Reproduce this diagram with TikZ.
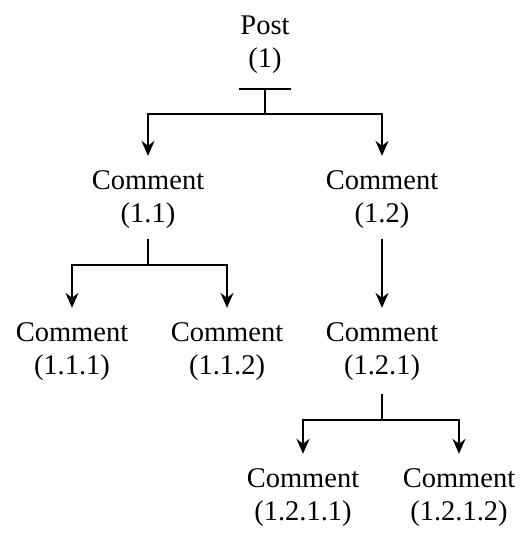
\documentclass[tikz,border=0pt]{standalone}
\usepackage{fontspec}
\setmainfont{Liberation Serif}
\usetikzlibrary{arrows.meta,calc}
\begin{document}
\begin{tikzpicture}[x=1pt,y=-1pt,
  lbl/.style={inner sep=0pt,align=center,font=\fontsize{28.5}{33}\selectfont},
  conn/.style={line width=2pt,draw=black},
  arr/.style={conn,-{Stealth[length=15pt,width=13pt,inset=5pt]},shorten >=15pt}]
\useasboundingbox (0,0) rectangle (521,536);
\node[lbl] (post) at (265,45) {Post\\(1)};
\node[lbl] (c11) at (148,200) {Comment\\(1.1)};
\node[lbl] (c12) at (382,200) {Comment\\(1.2)};
\node[lbl] (c111) at (72,352) {Comment\\(1.1.1)};
\node[lbl] (c112) at (227,352) {Comment\\(1.1.2)};
\node[lbl] (c121) at (382,352) {Comment\\(1.2.1)};
\node[lbl] (c1211) at (303,498) {Comment\\(1.2.1.1)};
\node[lbl] (c1212) at (459,498) {Comment\\(1.2.1.2)};
% Post
\draw[conn,{Bar[width=52pt,line width=2pt]}-] ($(post.south)+(0,14)$) -- ++(0,25.5) coordinate (j0);
\draw[arr] (j0) -| (c11.north);
\draw[arr] (j0) -| (c12.north);
% 1.1
\draw[conn] ($(c11.south)+(0,10)$) -- ++(0,26) coordinate (j11);
\draw[arr] (j11) -| (c111.north);
\draw[arr] (j11) -| (c112.north);
% 1.2
\draw[arr] ($(c12.south)+(0,10)$) -- (c121.north);
% 1.2.1
\draw[conn] ($(c121.south)+(0,13)$) -- ++(0,26) coordinate (j121);
\draw[arr] (j121) -| (c1211.north);
\draw[arr] (j121) -| (c1212.north);
\end{tikzpicture}
\end{document}
